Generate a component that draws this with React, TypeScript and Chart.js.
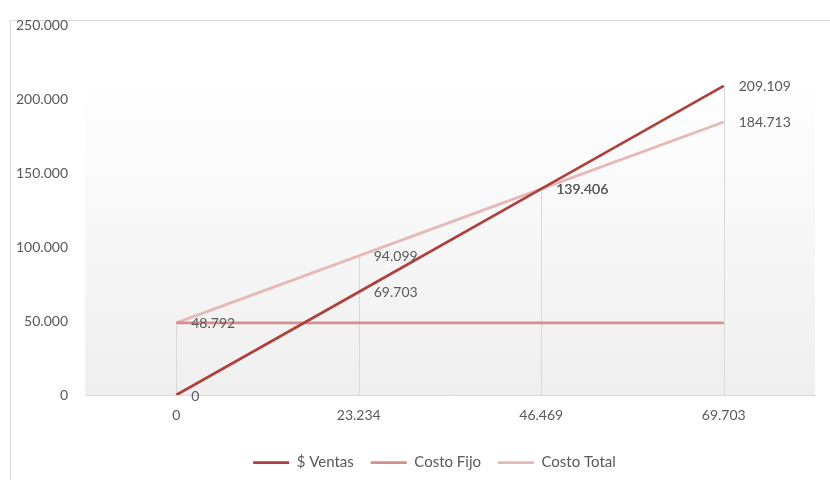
import { useEffect, useRef } from "react";
import { Chart, registerables } from "chart.js";

Chart.register(...registerables);

// Unidades vendidas (categorías del eje X)
const unidades = [0, 23234, 46469, 69703];
// Series en $
const ventas = [0, 69703, 139406, 209109];
const costoFijo = [48792, 48792, 48792, 48792];
const costoTotal = [48792, 94099, 139406, 184713];
// Eje Y
const yMin = 0;
const yMax = 250000;
const yStep = 50000;

const seriesNames = ["$ Ventas", "Costo Fijo", "Costo Total"];
const seriesColors = ["#AE403D", "#D58F8D", "#E6B9B8"];

const FONT = "Lato, 'Open Sans', sans-serif";
const TEXT = "#595959";
const GRID = "#D9D9D9";

const fmt = (n: number) =>
  Math.round(n)
    .toString()
    .replace(/\B(?=(\d{3})+(?!\d))/g, ".");

// Marco exterior y fondo degradado del área de trazado
const backgroundPlugin = {
  id: "fondo",
  beforeDraw(chart: any) {
    const { ctx, chartArea } = chart;
    ctx.save();
    ctx.strokeStyle = GRID;
    ctx.lineWidth = 1;
    ctx.strokeRect(10.5, 20.5, chart.width + 20, chart.height + 20);
    const top = chartArea.top + 50;
    const g = ctx.createLinearGradient(0, top, 0, chartArea.bottom);
    g.addColorStop(0, "#FFFFFF");
    g.addColorStop(1, "#EFEFEF");
    ctx.fillStyle = g;
    ctx.fillRect(chartArea.left, top, chartArea.right - chartArea.left, chartArea.bottom - top);
    ctx.restore();
  },
};

// Desplaza la leyenda para centrarla bajo el marco del gráfico
const legendShiftPlugin = {
  id: "leyendaPos",
  afterLayout(chart: any) {
    const l = chart.legend;
    if (!l) return;
    l.left += 27;
    l.right += 27;
  },
};

// Líneas de proyección desde el punto más alto de cada categoría hasta el eje
const dropLinesPlugin = {
  id: "proyeccion",
  beforeDatasetsDraw(chart: any) {
    const { ctx, chartArea, scales } = chart;
    const x = scales.x;
    const y = scales.y;
    ctx.save();
    ctx.strokeStyle = GRID;
    ctx.lineWidth = 1;
    unidades.forEach((_, i) => {
      const maxVal = Math.max(ventas[i], costoFijo[i], costoTotal[i]);
      const px = Math.round(x.getPixelForValue(i)) + 0.5;
      ctx.beginPath();
      ctx.moveTo(px, y.getPixelForValue(maxVal));
      ctx.lineTo(px, chartArea.bottom);
      ctx.stroke();
    });
    ctx.restore();
  },
};

// Etiquetas de datos a la derecha de cada punto
const labelsPlugin = {
  id: "etiquetas",
  afterDatasetsDraw(chart: any) {
    const { ctx } = chart;
    ctx.save();
    ctx.font = `14px ${FONT}`;
    ctx.fillStyle = TEXT;
    ctx.textAlign = "left";
    ctx.textBaseline = "middle";
    [0, 2].forEach((di) => {
      const meta = chart.getDatasetMeta(di);
      const data = chart.data.datasets[di].data as number[];
      meta.data.forEach((pt: any, i: number) => {
        ctx.fillText(fmt(data[i]), pt.x + 15, pt.y + 1);
      });
    });
    ctx.restore();
  },
};

export default function App() {
  const ref = useRef<HTMLCanvasElement>(null);

  useEffect(() => {
    if (!ref.current) return;
    const chart = new Chart(ref.current, {
      type: "line",
      data: {
        labels: unidades.map(fmt),
        datasets: [
          { label: seriesNames[0], data: ventas, borderColor: seriesColors[0], backgroundColor: seriesColors[0], borderWidth: 2.75 },
          { label: seriesNames[1], data: costoFijo, borderColor: seriesColors[1], backgroundColor: seriesColors[1], borderWidth: 2.75 },
          { label: seriesNames[2], data: costoTotal, borderColor: seriesColors[2], backgroundColor: seriesColors[2], borderWidth: 2.75 },
        ],
      },
      options: {
        animation: false,
        responsive: false,
        devicePixelRatio: 1,
        elements: { point: { radius: 0, hoverRadius: 0 }, line: { tension: 0 } },
        layout: { padding: { top: 22, right: 15, bottom: 0, left: 0 } },
        plugins: {
          tooltip: { enabled: false },
          legend: {
            position: "bottom",
            labels: {
              usePointStyle: true,
              pointStyle: "line",
              pointStyleWidth: 36,
              padding: 17,
              color: TEXT,
              font: { family: FONT, size: 15 },
            },
          },
        },
        scales: {
          x: {
            offset: true,
            grid: { display: false, drawTicks: false },
            border: { display: true, color: GRID, width: 1 },
            ticks: { color: TEXT, font: { family: FONT, size: 14 }, padding: 12, maxRotation: 0 },
            afterFit: (s: any) => {
              s.height = 43;
            },
          },
          y: {
            min: yMin,
            max: yMax,
            grid: { display: false, drawTicks: false },
            border: { display: false },
            ticks: {
              stepSize: yStep,
              color: TEXT,
              font: { family: FONT, size: 14 },
              padding: 17,
              callback: (v: any) => fmt(Number(v)),
            },
            afterFit: (s: any) => {
              s.width = 85;
            },
          },
        },
      },
      plugins: [backgroundPlugin, legendShiftPlugin, dropLinesPlugin, labelsPlugin],
    });
    return () => chart.destroy();
  }, []);

  return (
    <div style={{ position: "fixed", left: 0, top: 0, width: 830, height: 480, background: "#FFFFFF" }}>
      <canvas ref={ref} width={830} height={480} style={{ display: "block", width: 830, height: 480 }} />
    </div>
  );
}
